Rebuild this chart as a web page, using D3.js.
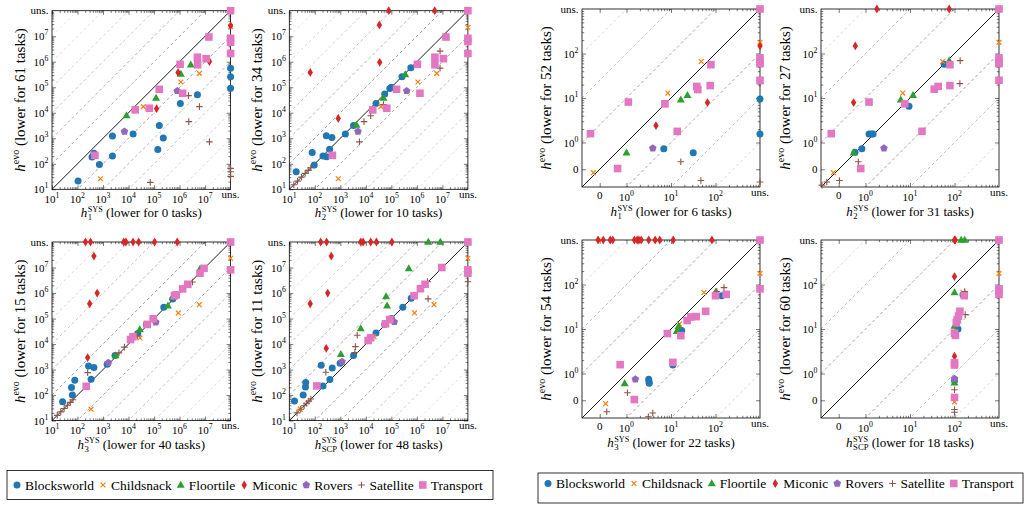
<!DOCTYPE html>
<html><head><meta charset="utf-8">
<script src="https://cdn.jsdelivr.net/npm/d3@7"></script>
<style>
body{margin:0;background:#fff}
svg{display:block}
text{font-family:"Liberation Serif","Times New Roman",serif;fill:#000}
</style>
</head><body>
<svg id="c" width="1030" height="506" font-family="Liberation Serif, serif"></svg>
<script>
// ---------------- DATA ----------------
const DOMAINS = ["Blocksworld","Childsnack","Floortile","Miconic","Rovers","Satellite","Transport"];
const COLORS  = ["#1f77b4","#ff7f0e","#2ca02c","#d62728","#9467bd","#8c564b","#e377c2"];
const SHAPES  = ["circle","x","triangle","diamond","pentagon","plus","square"];
const U = "uns"; // unsolved

// [domain index, h^SYS value, h^evo value]
const dataL1 = [
 [0,105,21],[0,370,186],[0,440,257],[0,720,93],[0,2340,204],[0,2340,1230],[0,15100,1480],[0,1.4e5,363],[0,1.6e5,3160],[0,2.3e5,1020],[0,1.07e6,2.3e4],[0,5e6,5.1e4],[0,U,5.6e5],[0,U,2.6e5],[0,U,9.1e4],
 [1,790,26],[1,3.8e4,1.74e4],[1,1.12e6,1.6e5],[1,6e6,3.5e5],[1,U,2.4e7],
 [2,8300,7900],[2,1.2e5,3.8e4],[2,1.12e6,3.3e5],[2,2.75e6,7.6e5],
 [3,1.26e5,1.45e4],[3,8.7e5,3.8e5],[3,1.48e7,1.02e6],[3,U,2.6e7],
 [4,6900,1860],[4,8.1e5,7.2e4],
 [5,7.1e4,18.6],[5,2.24e6,4.7e4],[5,2.3e6,4500],[5,6e6,1.74e4],[5,1.48e7,720],[5,U,66],[5,U,49],[5,U,32],
 [6,480,214],[6,1.82e4,1.3e4],[6,6.5e4,1.5e4],[6,1.6e5,8.3e4],[6,1.05e6,7.9e5],[6,1.32e6,5.8e4],[6,5e6,1.5e6],[6,5.1e6,7.6e5],[6,1.1e7,1.32e6],[6,1.41e7,9.3e6],[6,U,8.3e6],[6,U,5.8e6],[6,U,2.1e6],[6,U,U]
];
const dataL2 = [
 [0,18.6,49],[0,79,275],[0,95,89],[0,209,204],[0,282,1260],[0,288,190],[0,380,372],[0,468,1070],[0,1580,1480],[0,3300,3160],[0,2.5e4,2.3e4],[0,5.5e4,5.4e4],[0,8.7e4,8.9e4],[0,1e5,1e5],[0,2.6e5,2.6e5],[0,5.8e5,5.8e5],
 [1,830,26],[1,3.9e4,1.74e4],[1,1.1e6,1.6e5],[1,6e6,3.5e5],[1,U,2.2e7],
 [2,4300,3300],[2,4.9e4,3.8e4],[2,3.5e5,3.2e5],[2,1.38e7,1e7],
 [3,66,3.8e5],[3,830,6000],[3,3.4e4,2.75e7],[3,3.5e4,9.5e5],[3,7.9e4,U],[3,5e6,U],
 [4,4900,1860],[4,4e5,7.2e4],
 [5,15,15],[5,21,21],[5,30,30],[5,42,42],[5,55,55],[5,70,70],[5,5600,720],[5,1.55e4,7600],[5,8500,4500],[5,4.9e4,2.1e4],[5,8.1e6,2.6e6],[5,8.1e6,5.6e5],
 [6,490,214],[6,1.86e4,1.29e4],[6,6.6e4,1.5e4],[6,1.6e5,8.3e4],[6,1.05e6,7.9e5],[6,1.32e6,5.8e4],[6,5.1e6,1.5e6],[6,5.1e6,7.6e5],[6,1.1e7,1.32e6],[6,1.38e7,9.3e6],[6,U,8.3e6],[6,U,6.2e6],[6,U,2.1e6],[6,U,U]
];
const dataL3 = [
 [0,26,55],[0,58,200],[0,78,380],[0,63,100],[0,270,1380],[0,440,1200],[0,340,420],[0,1450,1620],[0,2950,3600],[0,2.3e4,2.6e4],[0,5e4,5.9e4],[0,9.3e4,1e5],[0,2.4e5,2.8e5],[0,5.4e5,5.9e5],
 [1,340,28],[1,2.8e4,1.74e4],[1,8.9e5,1.66e5],[1,5.9e6,3.5e5],[1,U,2.3e7],
 [2,3100,3600],[2,2.75e4,3.7e4],[2,3.5e5,3.2e5],[2,5.4e5,6.8e5],[2,6.3e6,8.7e6],
 [3,205,U],[3,324,U],[3,6500,U],[3,7900,U],[3,1.5e4,U],[3,2.5e4,U],[3,1.05e5,U],[3,8.1e5,U],[3,440,2.8e7],[3,590,1e6],[3,300,3.8e5],[3,250,2950],
 [4,1620,1860],[4,1.17e5,7.2e4],
 [5,16,16],[5,22,22],[5,30,30],[5,40,40],[5,52,52],[5,66,66],[5,250,760],[5,4200,4500],[5,6900,7600],[5,2.2e4,2.1e4],[5,3.2e6,2.7e6],
 [6,220,220],[6,1.2e4,1.5e4],[6,1.5e4,1.95e4],[6,5.4e4,5.9e4],[6,9.3e4,9.8e4],[6,6.3e5,7.9e5],[6,7.4e5,8.5e5],[6,1.32e6,1.45e6],[6,2.1e6,2.2e6],[6,6.3e6,6e6],[6,9.1e6,9.3e6],[6,U,8.1e6],[6,U,U]
];
const dataL4 = [
 [0,16,59],[0,35,100],[0,43,209],[0,44,309],[0,178,1480],[0,209,229],[0,390,407],[0,480,1150],[0,980,1780],[0,3300,3600],[0,2.5e4,2.7e4],[0,5.5e4,6e4],[0,1e5,1e5],[0,2.8e5,2.8e5],[0,6e5,6.2e5],
 [1,27,28],[1,2.1e4,1.95e4],[1,8.1e5,1.66e5],[1,4.7e6,3.5e5],[1,U,2.3e7],
 [2,2.8e6,U],[2,8.3e6,U],[2,4.8e5,9.1e6],[2,6.2e4,7.4e5],[2,6.8e4,3.2e5],[2,6300,4.1e4],[2,1050,4000],
 [3,170,U],[3,290,U],[3,6300,U],[3,7800,U],[3,1.55e4,U],[3,2.6e4,U],[3,1.05e5,U],[3,440,2.8e7],[3,320,1e6],[3,66,3.8e5],[3,280,6800],
 [4,1170,2040],[4,1.3e5,7.4e4],
 [5,20,20],[5,28,28],[5,38,38],[5,48,48],[5,58,58],[5,70,70],[5,270,790],[5,3700,4600],[5,3900,7900],[5,4600,2.2e4],[5,2.6e6,2.8e6],[5,2.75e6,5.9e5],[5,U,2.75e6],
 [6,120,229],[6,1.23e4,1.38e4],[6,1.55e4,1.78e4],[6,5.9e4,6.2e4],[6,8.7e4,9.1e4],[6,7.8e5,7.9e5],[6,1.38e6,1.48e6],[6,2.1e6,2.2e6],[6,9.5e6,1e7],[6,U,8.1e6],[6,U,6e6],[6,U,U]
];
const dataR1 = [
 [0,6.9,0.72],[0,31.6,0.59],[0,U,9.5],[0,U,1.55],[0,U,59],
 [1,0.18,0.21],[1,8.5,12.9],[1,47.9,66],[1,U,178],
 [2,1.0,0.59],[2,16.6,9.1],[2,23.4,11.5],
 [3,4.6,2.4],[3,66,7.9],[3,U,148],
 [4,3.9,0.74],
 [5,16.6,0.37],[5,47,0.14],[5,U,0.13],[5,U,21],
 [6,0.155,1.58],[6,0.63,0.26],[6,1.1,8.1],[6,7.3,7.4],[6,13.8,1.78],[6,38,18.2],[6,40,15.5],[6,76,19],[6,79,56],[6,U,80],[6,U,66],[6,U,59],[6,U,25],[6,U,U]
];
const dataR2 = [
 [0,0.58,0.6],[0,0.83,0.72],[0,1.2,1.55],[0,1.38,1.55],[0,1.48,1.55],[0,9.5,6.5],[0,59,57],
 [1,0.19,0.21],[1,6.9,12.9],[1,54,66],[1,U,178],
 [2,0.54,0.59],[2,6.2,9.1],[2,11.7,11.5],[2,76,69],
 [3,0.54,7.9],[3,0.59,148],[3,1.8,U],[3,76,U],
 [4,2.6,0.74],
 [5,0.105,0.11],[5,0.135,0.13],[5,0.26,0.14],[5,0.69,0.37],[5,134,69],[5,132,21],
 [6,0.17,1.58],[6,0.78,0.26],[6,1.2,8.1],[6,7.6,7.4],[6,18.6,1.78],[6,35,15.8],[6,43,18.2],[6,79,56],[6,79,19],[6,U,80],[6,U,66],[6,U,59],[6,U,25],[6,U,U]
];
const dataR3 = [
 [0,3.16,0.74],[0,3.2,0.66],[0,3.25,0.6],[0,11,1.55],[0,17.4,9.3],[0,138,56],
 [1,0.34,0.21],[1,15.5,12.9],[1,55,66],[1,U,178],
 [2,0.91,0.6],[2,13.5,8.9],[2,14.8,11.5],[2,102,69],
 [3,0.23,U],[3,0.3,U],[3,0.43,U],[3,0.49,U],[3,1.51,U],[3,1.74,U],[3,1.9,U],[3,2.14,U],[3,3.16,U],[3,4.4,U],[3,5.6,U],[3,11.2,U],[3,83,U],
 [4,1.58,0.74],
 [5,0.36,0.138],[5,1.05,0.37],[5,3.1,0.107],[5,3.9,0.13],[5,107,69],[5,155,85],
 [6,0.72,1.58],[6,1.5,0.26],[6,8.3,7.9],[6,11,1.78],[6,16.6,7.1],[6,23,15.5],[6,28,18.6],[6,37,19],[6,60,25],[6,100,56],[6,174,60],[6,U,80],[6,U,U]
];
const dataR4 = [
 [0,155,59],[0,120,10],[0,100,0.69],
 [1,155,66],[1,105,12.6],[1,100,0.23],[1,U,178],
 [2,141,U],[2,170,U],[2,100,66],[2,100,11.7],[2,100,0.62],
 [3,100,U],[3,104,U],[3,100,151],[3,100,2.45],
 [4,100,0.76],
 [5,170,69],[5,174,21],[5,100,0.43],[5,100,0.155],[5,100,0.135],
 [6,166,56],[6,132,25],[6,123,19.5],[6,115,16.2],[6,110,13.8],[6,100,8.1],[6,105,7.2],[6,100,1.74],[6,100,1.55],[6,100,0.29],[6,U,80],[6,U,71],[6,U,60],[6,U,U]
];

const SYS_SUB    = ["1","2","3","SCP","1","2","3","SCP"];
const EVO_LOWER  = [61,34,15,11,52,27,54,60];
const SYS_LOWER  = [0,10,40,48,6,31,22,18];

// axis ticks
const L_MAJOR = [1e1,1e2,1e3,1e4,1e5,1e6,1e7];
const L_EXP   = ["1","2","3","4","5","6","7"];
const R_MAJOR = [0.25,1,10,100];
const R_LABEL = ["0","0","1","2"]; // first is plain "0", rest are exponents
const L_UNS = 1e8, R_UNS = 1000;

// ---------------- LAYOUT ----------------
const FIG = {
  L: {domain:[10,1e8], uns:L_UNS, size:178.6, ylabOff:27, xlabOff:28,
      minor: d3.range(1,8).flatMap(k=>d3.range(2,10).map(m=>m*Math.pow(10,k))),
      dashK:[1,2,3,4,5,6], dashOp:[0.8,0.65,0.5,0.4,0.3,0.22]},
  R: {domain:[0.1,1000], uns:R_UNS, size:178, ylabOff:31, xlabOff:29,
      minor: d3.range(0,3).flatMap(k=>d3.range(2,10).map(m=>m*Math.pow(10,k))),
      dashK:[1,2,3], dashOp:[0.8,0.55,0.35]}
};
const PANELS = [
  {data:dataL1, fig:"L", left:52,    top:10.7},
  {data:dataL2, fig:"L", left:289.3, top:10.7},
  {data:dataL3, fig:"L", left:52,    top:242},
  {data:dataL4, fig:"L", left:289.3, top:242},
  {data:dataR1, fig:"R", left:582,   top:9},
  {data:dataR2, fig:"R", left:821,   top:9},
  {data:dataR3, fig:"R", left:582,   top:240},
  {data:dataR4, fig:"R", left:821,   top:240}
];

const svg = d3.select("#c");
const meas = svg.append("text").attr("visibility","hidden");
function measure(str, size, italic){
  meas.attr("font-size",size).attr("font-style",italic?"italic":"normal").text(str);
  return meas.node().getComputedTextLength();
}

function drawMarker(g, shape, color, x, y){
  switch(shape){
    case "circle": g.append("circle").attr("cx",x).attr("cy",y).attr("r",3.5).attr("fill",color); break;
    case "square": g.append("rect").attr("x",x-3.8).attr("y",y-3.8).attr("width",7.6).attr("height",7.6).attr("fill",color); break;
    case "triangle": g.append("path").attr("d",`M${x},${y-4.2}L${x+4},${y+2.8}L${x-4},${y+2.8}Z`).attr("fill",color); break;
    case "diamond": g.append("path").attr("d",`M${x},${y-4.4}L${x+2.7},${y}L${x},${y+4.4}L${x-2.7},${y}Z`).attr("fill",color); break;
    case "pentagon": {
      const pts = d3.range(5).map(i=>{const a=-Math.PI/2+i*2*Math.PI/5; return [x+4*Math.cos(a), y+4*Math.sin(a)];});
      g.append("path").attr("d","M"+pts.map(p=>p.join(",")).join("L")+"Z").attr("fill",color); break;
    }
    case "plus": g.append("path").attr("d",`M${x-3.3},${y}H${x+3.3}M${x},${y-3.3}V${y+3.3}`).attr("stroke",color).attr("stroke-width",1.1).attr("fill","none"); break;
    case "x": g.append("path").attr("d",`M${x-2.4},${y-2.4}L${x+2.4},${y+2.4}M${x-2.4},${y+2.4}L${x+2.4},${y-2.4}`).attr("stroke",color).attr("stroke-width",1.2).attr("fill","none"); break;
  }
}

PANELS.forEach((p, pi) => {
  const F = FIG[p.fig];
  const S = F.size;
  const g = svg.append("g");
  const xs = d3.scaleLog().domain(F.domain).range([p.left, p.left+S]);
  const ys = d3.scaleLog().domain(F.domain).range([p.top+S, p.top]);
  const val = v => v === U ? F.uns : v;
  const bottom = p.top + S, right = p.left + S;

  const cid = "clip"+pi;
  svg.append("clipPath").attr("id",cid).append("rect").attr("x",p.left).attr("y",p.top).attr("width",S).attr("height",S);

  const dg = g.append("g").attr("clip-path",`url(#${cid})`);
  F.dashK.forEach((k,i)=>{
    [1,-1].forEach(sgn=>{
      const f = Math.pow(10, sgn*k);
      const x0 = F.domain[0], x1 = F.domain[1];
      dg.append("line")
        .attr("x1",xs(x0)).attr("y1",ys(x0*f)).attr("x2",xs(x1)).attr("y2",ys(x1*f))
        .attr("stroke","#707070").attr("stroke-opacity",F.dashOp[i])
        .attr("stroke-width",0.8).attr("stroke-dasharray","3,2.6");
    });
  });
  g.append("line").attr("x1",xs(F.domain[0])).attr("y1",ys(F.domain[0]))
    .attr("x2",xs(F.domain[1])).attr("y2",ys(F.domain[1]))
    .attr("stroke","#000").attr("stroke-width",0.9);

  const major = p.fig==="L" ? L_MAJOR : R_MAJOR;
  const mk = (axisFn, scale, vals, size, tr) => {
    const a = g.append("g").attr("transform",tr)
      .call(axisFn(scale).tickValues(vals).tickSizeInner(-size).tickSizeOuter(0).tickFormat(""));
    a.select(".domain").remove();
    a.selectAll("line").attr("stroke","#222").attr("stroke-width",0.6);
  };
  [[major,4],[F.minor,2.2]].forEach(([vals,sz])=>{
    mk(d3.axisBottom, xs, vals, sz, `translate(0,${bottom})`);
    mk(d3.axisTop, xs, vals, sz, `translate(0,${p.top})`);
    mk(d3.axisLeft, ys, vals, sz, `translate(${p.left},0)`);
    mk(d3.axisRight, ys, vals, sz, `translate(${right},0)`);
  });

  g.append("rect").attr("x",p.left).attr("y",p.top).attr("width",S).attr("height",S)
    .attr("fill","none").attr("stroke","#000").attr("stroke-width",0.8);

  const TL = 11, SUP = 7.8;
  major.forEach((v,i)=>{
    const plain = p.fig==="R" && i===0;
    const exp = p.fig==="L" ? L_EXP[i] : R_LABEL[i];
    const tx = g.append("text").attr("x",xs(v)).attr("y",bottom + (plain?12:13.5)).attr("text-anchor","middle").attr("font-size",TL);
    const ty = g.append("text").attr("x",p.left-3.5).attr("y",ys(v)+4).attr("text-anchor","end").attr("font-size",TL);
    [tx,ty].forEach(t=>{
      if(plain){ t.text("0"); }
      else { t.append("tspan").text("10"); t.append("tspan").attr("font-size",SUP).attr("dy",-5).text(exp); }
    });
  });
  g.append("text").attr("x",right).attr("y",bottom+8.5).attr("text-anchor","middle").attr("font-size",TL).text("uns.");
  g.append("text").attr("x",p.left-3.5).attr("y",p.top+3.5).attr("text-anchor","end").attr("font-size",TL).text("uns.");

  const sub = SYS_SUB[pi];
  const XF = 13, SS = 8.2;
  const xl = g.append("text").attr("x",p.left+S/2).attr("y",bottom+F.xlabOff).attr("text-anchor","middle").attr("font-size",XF);
  xl.append("tspan").attr("font-style","italic").text("h");
  const wSup = measure("SYS",SS), wSub = measure(sub,SS+0.5);
  xl.append("tspan").attr("font-size",SS).attr("dy",-5.5).attr("dx",0.5).text("SYS");
  xl.append("tspan").attr("font-size",SS+0.5).attr("dx",-wSup).attr("dy",8.5).text(sub);
  xl.append("tspan").attr("dx",Math.max(0,wSup-wSub)).attr("dy",-3).text(` (lower for ${SYS_LOWER[pi]} tasks)`);

  const YF = 15;
  const cy = p.top + S/2, cx = p.left - F.ylabOff;
  const yl = g.append("text").attr("transform",`translate(${cx},${cy}) rotate(-90)`).attr("text-anchor","middle").attr("font-size",YF);
  yl.append("tspan").attr("font-style","italic").text("h");
  yl.append("tspan").attr("font-size",10).attr("dy",-6).text("evo");
  yl.append("tspan").attr("dy",6).text(` (lower for ${EVO_LOWER[pi]} tasks)`);

  const mg = g.append("g");
  const pts = p.data.slice().sort((a,b)=>a[0]-b[0]);
  pts.forEach(d=>{
    drawMarker(mg, SHAPES[d[0]], COLORS[d[0]], xs(val(d[1])), ys(val(d[2])));
  });
});

const LEG = [
  {x:7,   y:470.5, w:486, h:29, base:489.5},
  {x:538, y:473,   w:485, h:30, base:488}
];
LEG.forEach(L=>{
  const g = svg.append("g");
  g.append("rect").attr("x",L.x).attr("y",L.y).attr("width",L.w).attr("height",L.h)
    .attr("fill","#fff").attr("stroke","#000").attr("stroke-width",0.8);
  let cur = L.x + 1;
  DOMAINS.forEach((name,i)=>{
    const mx = cur + 9;
    drawMarker(g, SHAPES[i], COLORS[i], mx, L.base-4.5);
    const tx = mx + 8;
    g.append("text").attr("x",tx).attr("y",L.base).attr("font-size",13.5).text(name);
    cur = tx + measure(name,13.5);
  });
});
meas.remove();
</script>
</body></html>
